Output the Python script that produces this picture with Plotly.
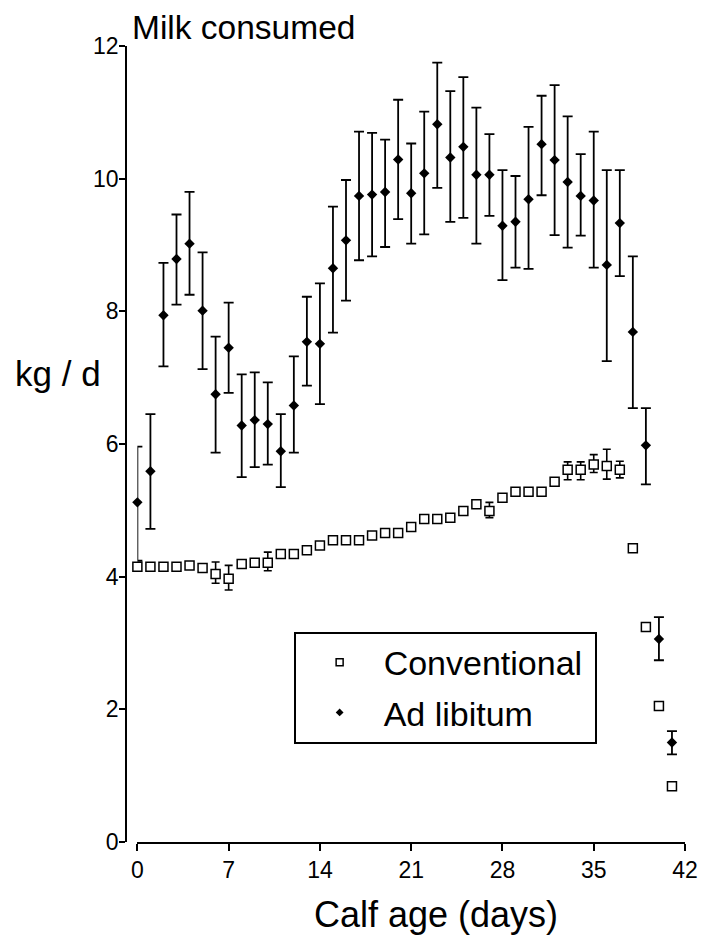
import plotly.graph_objects as go

days = list(range(42))

adlib_mean = [5.12, 5.59, 7.94, 8.79, 9.02, 8.01, 6.75, 7.45, 6.28, 6.36, 6.30, 5.89, 6.58, 7.54,
              7.51, 8.65, 9.07, 9.74, 9.76, 9.80, 10.29, 9.78, 10.08, 10.82, 10.32, 10.48, 10.06,
              10.06, 9.29, 9.35, 9.69, 10.52, 10.28, 9.95, 9.74, 9.67, 8.70, 9.33, 7.69, 5.98,
              3.06, 1.50]
adlib_upper = [5.96, 6.45, 8.73, 9.46, 9.80, 8.89, 7.62, 8.13, 7.05, 7.08, 6.93, 6.45, 7.32, 8.22,
               8.42, 9.58, 9.98, 10.71, 10.69, 10.59, 11.19, 10.53, 11.01, 11.75, 11.32, 11.53,
               11.07, 10.67, 10.13, 10.04, 10.78, 11.25, 11.41, 10.94, 10.37, 10.71, 10.13, 10.13,
               8.83, 6.54, 3.39, 1.67]
adlib_lower = [4.24, 4.72, 7.17, 8.10, 8.25, 7.13, 5.87, 6.77, 5.50, 5.65, 5.69, 5.35, 5.87, 6.88,
               6.60, 7.68, 8.16, 8.77, 8.83, 8.97, 9.39, 9.02, 9.16, 9.86, 9.35, 9.41, 9.02, 9.44,
               8.47, 8.66, 8.64, 9.75, 9.15, 8.96, 9.14, 8.66, 7.25, 8.53, 6.54, 5.39, 2.74, 1.32]

conv_mean = [4.15, 4.15, 4.15, 4.15, 4.17, 4.13, 4.04, 3.97, 4.19, 4.21, 4.21, 4.34, 4.34, 4.40,
             4.47, 4.55, 4.55, 4.55, 4.62, 4.66, 4.66, 4.75, 4.87, 4.87, 4.89, 4.99, 5.09, 4.99,
             5.19, 5.28, 5.28, 5.28, 5.43, 5.61, 5.61, 5.69, 5.67, 5.61, 4.43, 3.24, 2.05, 0.84]
conv_upper = [None] * 42
conv_lower = [None] * 42
for i, up, lo in [(6, 4.22, 3.90), (7, 4.17, 3.80), (10, 4.37, 4.09), (27, 5.12, 4.89),
                  (33, 5.73, 5.46), (34, 5.73, 5.46), (35, 5.84, 5.57), (36, 5.92, 5.47),
                  (37, 5.74, 5.49)]:
    conv_upper[i] = up
    conv_lower[i] = lo

x_ticks = [0, 7, 14, 21, 28, 35, 42]
y_ticks = [0, 2, 4, 6, 8, 10, 12]


def plus_err(upper, mean):
    return [None if u is None else round(u - m, 3) for u, m in zip(upper, mean)]


def minus_err(lower, mean):
    return [None if lo is None else round(m - lo, 3) for lo, m in zip(lower, mean)]


FONT = "Liberation Sans, Arial, sans-serif"
OFF = 8  # page body margin
W, H = 702, 938
# plot area in screen pixels
X0, X1 = 138.3, 694.5
Y0, Y1 = 46.0, 842.5
ML, MR = X0 - OFF - 40, W - (X1 - OFF)
MT, MB = Y0 - OFF, H - (Y1 - OFF)
PW = W - ML - MR
PH = H - MT - MB


def px_x(p):
    return (p - OFF - ML) / PW


def px_y(p):
    return (H - MB - (p - OFF)) / PH


fig = go.Figure()

fig.add_trace(go.Scatter(
    x=days, y=conv_mean, mode="markers", showlegend=False, cliponaxis=False,
    marker=dict(symbol="square", size=9, color="white", line=dict(color="black", width=1.5)),
    error_y=dict(type="data", symmetric=False,
                 array=plus_err(conv_upper, conv_mean),
                 arrayminus=minus_err(conv_lower, conv_mean),
                 color="black", thickness=1.6, width=4),
))
fig.add_trace(go.Scatter(
    x=days, y=adlib_mean, mode="markers", showlegend=False, cliponaxis=False,
    marker=dict(symbol="diamond", size=8, color="black"),
    error_y=dict(type="data", symmetric=False,
                 array=plus_err(adlib_upper, adlib_mean),
                 arrayminus=minus_err(adlib_lower, adlib_mean),
                 color="black", thickness=1.8, width=5),
))

# legend entries
fig.add_trace(go.Scatter(
    x=[None], y=[None], mode="markers", name="Conventional\u2009", legendgroup="a",
    marker=dict(symbol="square", size=7, color="white", line=dict(color="black", width=1.5)),
))
fig.add_trace(go.Scatter(
    x=[None], y=[None], mode="markers", name="Ad libitum", legendgroup="b",
    marker=dict(symbol="diamond", size=6, color="black"),
))

fig.update_layout(
    width=W, height=H,
    margin=dict(l=ML, r=MR, t=MT, b=MB, pad=0),
    paper_bgcolor="white", plot_bgcolor="white",
    font=dict(family=FONT, color="black", size=23),
    xaxis=dict(
        domain=[px_x(X0), 1.0], range=[0, 42], tickvals=x_ticks,
        ticktext=[str(t) for t in x_ticks],
        showline=True, linecolor="black", linewidth=1.5,
        ticks="outside", ticklen=7, tickwidth=1.5, tickcolor="black",
        showgrid=False, zeroline=False, anchor="y",
        tickfont=dict(size=23, family=FONT, color="black"),
    ),
    yaxis=dict(
        domain=[0, 1], range=[0, 12], tickvals=y_ticks,
        ticktext=[str(t) for t in y_ticks],
        showline=True, linecolor="black", linewidth=1.5,
        ticks="outside", ticklen=6, tickwidth=1.5, tickcolor="black",
        showgrid=False, zeroline=False, anchor="free", position=px_x(126.7),
        tickfont=dict(size=23, family=FONT, color="black"),
        ticklabelstandoff=-4,
    ),
    legend=dict(
        x=px_x(297), y=px_y(632), xanchor="left", yanchor="top",
        bordercolor="black", borderwidth=2, bgcolor="white",
        font=dict(size=34, family=FONT, color="black"),
        traceorder="grouped", tracegroupgap=3, itemwidth=78,
    ),
    annotations=[
        dict(text="Milk consumed", x=px_x(131), y=px_y(27), xref="paper", yref="paper",
             xanchor="left", yanchor="middle", showarrow=False,
             font=dict(size=33.5, family=FONT, color="black")),
        dict(text="kg / d", x=px_x(12), y=px_y(374), xref="paper", yref="paper",
             xanchor="left", yanchor="middle", showarrow=False,
             font=dict(size=35, family=FONT, color="black")),
        dict(text="Calf age (days)", x=px_x(442), y=px_y(915), xref="paper", yref="paper",
             xanchor="center", yanchor="middle", showarrow=False,
             font=dict(size=36, family=FONT, color="black")),
    ],
)

fig.write_html("out.html")
